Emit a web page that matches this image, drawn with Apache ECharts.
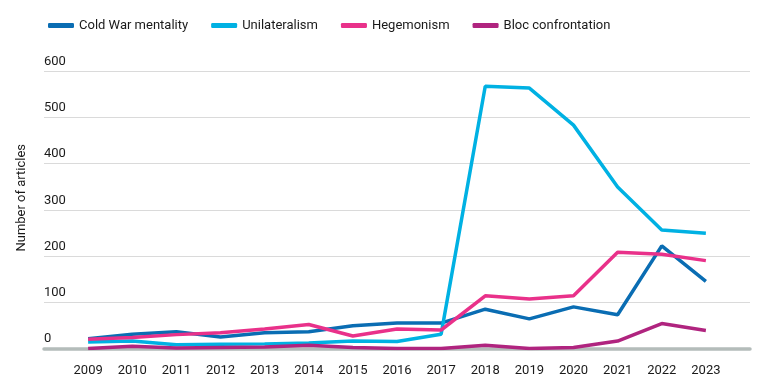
<!DOCTYPE html>
<html lang="en" style="height: 100%">
<head>
    <meta charset="utf-8">
    <title>Number of articles</title>
    <script src="https://cdn.jsdelivr.net/npm/echarts@6/dist/echarts.min.js"></script>
</head>
<body style="height: 100%; margin: 0; background: #fff">
<div id="container" style="width: 764px; height: 390px"></div>
<script type="text/javascript">
    // years on the x axis
    const years = [2009, 2010, 2011, 2012, 2013, 2014, 2015, 2016, 2017, 2018, 2019, 2020, 2021, 2022, 2023];

    // articles per year
    const coldWar = [21, 31, 36, 25, 34, 36, 49, 55, 55, 85, 64, 90, 73, 222, 145];
    const unilateralism = [14, 16, 8, 9, 10, 12, 16, 15, 31, 567, 563, 483, 349, 256, 249];
    const hegemonism = [20, 24, 30, 34, 42, 52, 27, 42, 40, 114, 107, 114, 208, 204, 190];
    const bloc = [0, 5, 1, 2, 3, 7, 2, 0, 0, 7, 0, 2, 16, 54, 39];

    const names = ['Cold War mentality', 'Unilateralism', 'Hegemonism', 'Bloc confrontation'];
    const colors = ['#0a6db3', '#00b1e3', '#e9318a', '#b0247f'];
    const values = [coldWar, unilateralism, hegemonism, bloc];

    const font = 'Roboto';

    var dom = document.getElementById('container');
    var myChart = echarts.init(dom, null, {renderer: 'canvas'});

    var series = [];
    for (var i = 0; i < names.length; i++) {
        series.push({
            name: names[i],
            type: 'line',
            showSymbol: false,
            symbol: 'none',
            lineStyle: {width: 3.5, color: colors[i]},
            itemStyle: {color: colors[i]},
            data: years.map(function (y, k) {
                return [y, values[i][k]];
            })
        });
    }

    var option = {
        animation: false,
        color: colors,
        legend: {
            left: 43,
            top: 14,
            icon: 'roundRect',
            itemWidth: 26,
            itemHeight: 5,
            itemGap: 23,
            textStyle: {fontFamily: font, fontSize: 13, color: '#1a1a1a'},
            data: names
        },
        grid: {
            left: 44,
            right: 14,
            top: 71,
            bottom: 41.5
        },
        xAxis: {
            type: 'value',
            min: 2008,
            max: 2024,
            interval: 1,
            splitLine: {show: false},
            axisTick: {show: false},
            axisLine: {show: true, lineStyle: {color: '#b4bcba', width: 3.5}},
            axisLabel: {
                margin: 16,
                fontFamily: font,
                fontSize: 13,
                color: '#1a1a1a',
                formatter: function (v) {
                    return (v === 2008 || v === 2024) ? '' : String(v);
                }
            }
        },
        yAxis: {
            type: 'value',
            min: 0,
            max: 600,
            interval: 100,
            name: 'Number of articles',
            nameLocation: 'middle',
            nameGap: 16,
            nameTextStyle: {fontFamily: font, fontSize: 13, color: '#1a1a1a', padding: [0, 0, 0, 24]},
            axisLine: {show: false},
            axisTick: {show: false},
            splitLine: {lineStyle: {color: '#dadada', width: 1}},
            axisLabel: {
                inside: true,
                margin: 0,
                verticalAlign: 'bottom',
                padding: [0, 0, 3, 0],
                fontFamily: font,
                fontSize: 13,
                color: '#1a1a1a'
            }
        },
        series: series
    };

    myChart.setOption(option);
    window.addEventListener('resize', myChart.resize);
</script>
</body>
</html>
